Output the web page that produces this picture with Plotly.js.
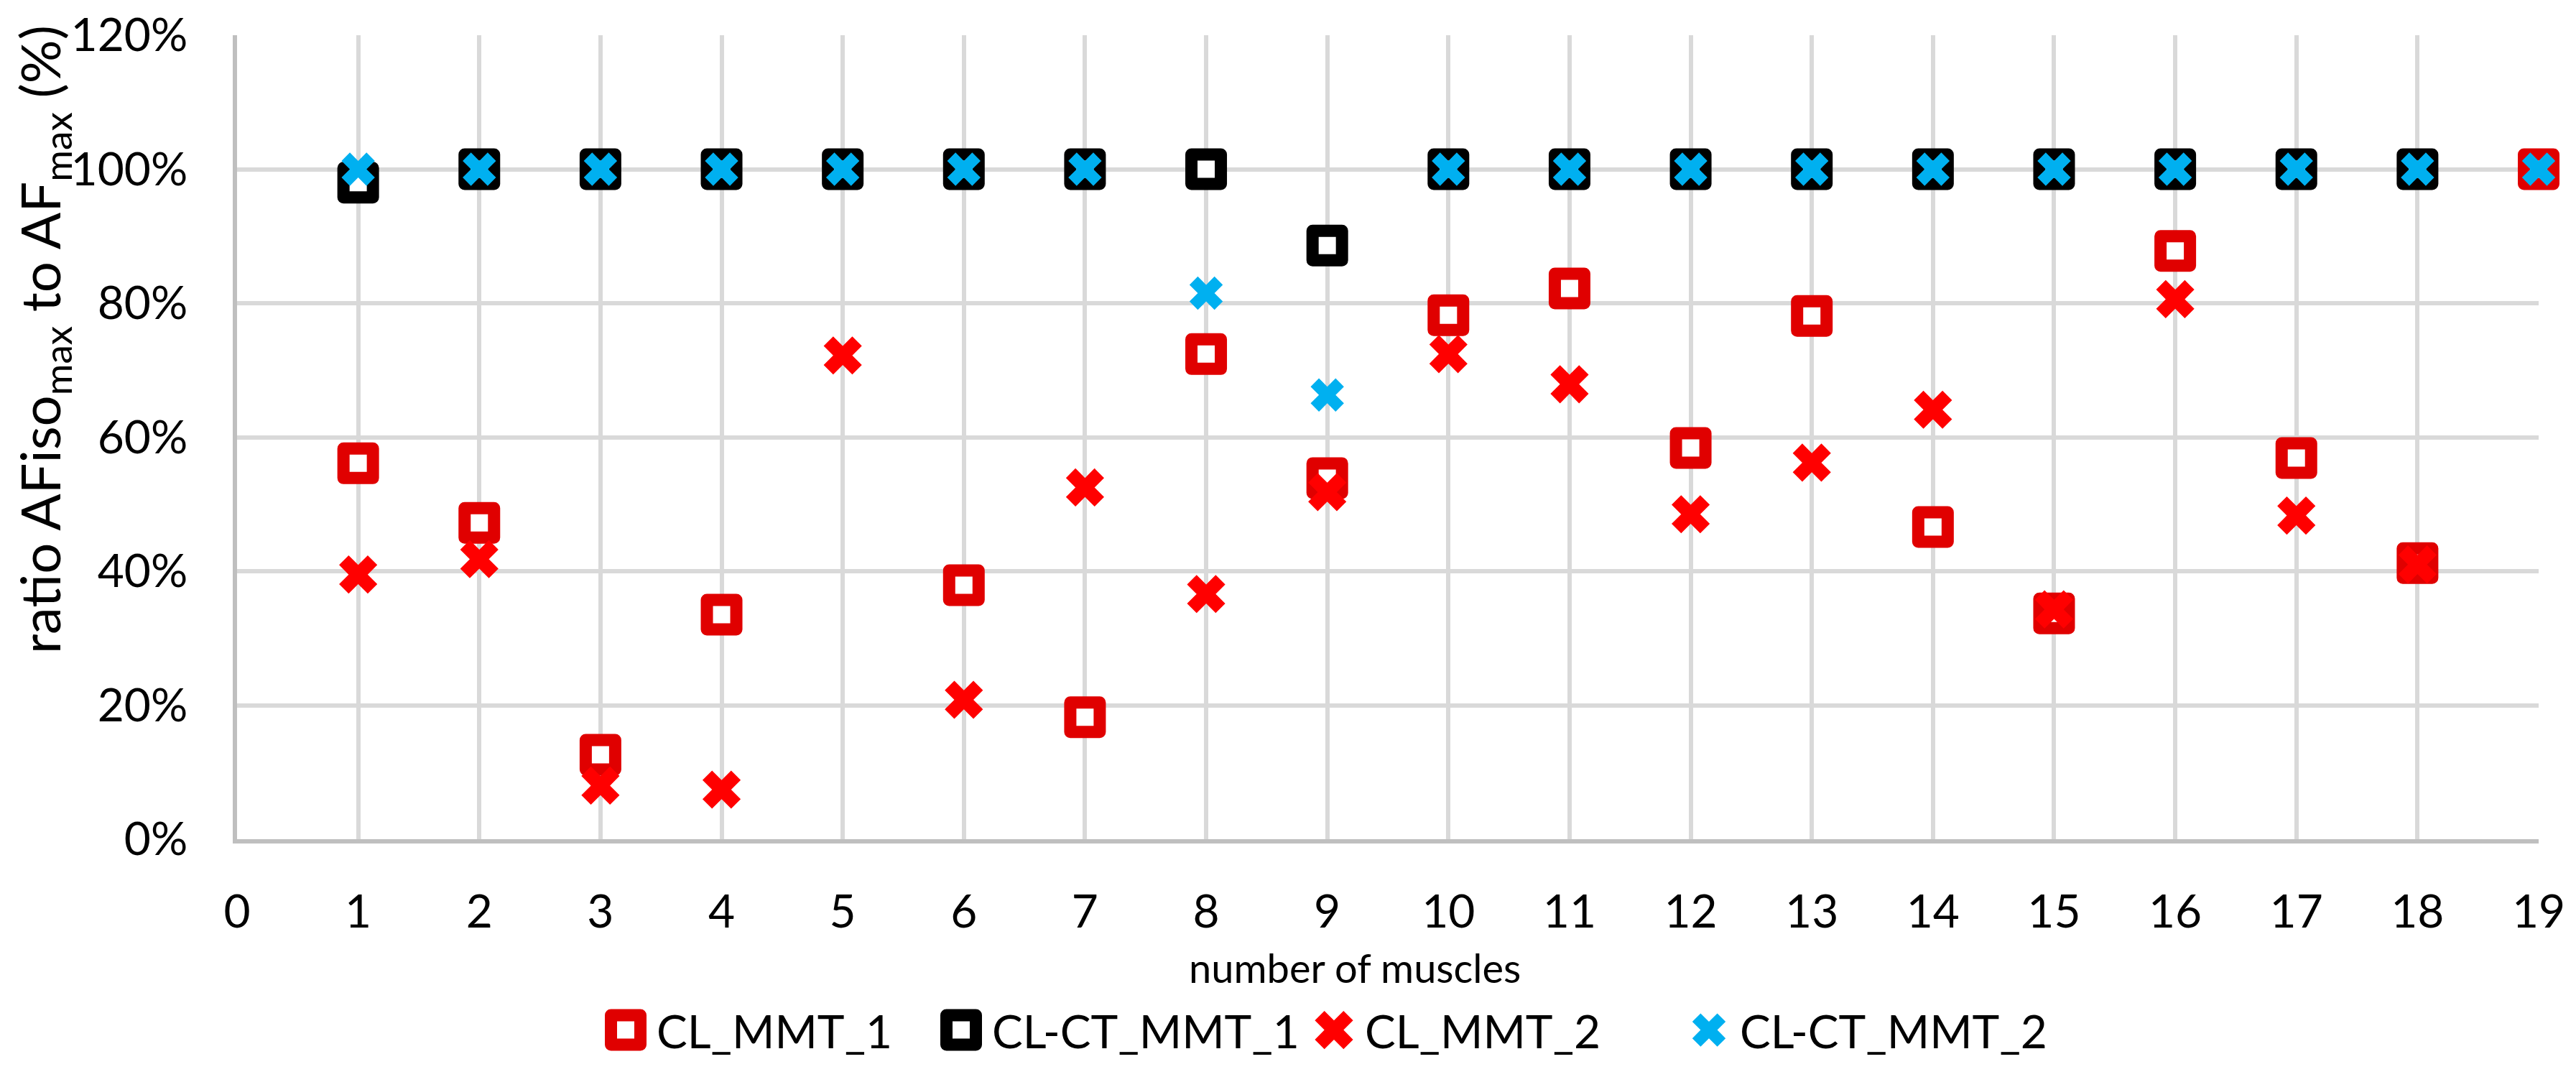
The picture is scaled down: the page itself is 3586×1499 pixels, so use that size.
<!DOCTYPE html>
<html><head><meta charset="utf-8">
<script src="https://cdn.plot.ly/plotly-3.0.1.min.js"></script>
<style>
html,body{margin:0;padding:0;background:#fff;}
#chart{width:3586px;height:1499px;}
.scatterlayer path.point, .legendpoints path{stroke-linejoin:round;}
</style></head><body><div id="chart"></div>
<script>
const muscles = [1,2,3,4,5,6,7,8,9,10,11,12,13,14,15,16,17,18,19];
const clMmt1   = [56.1,47.2,12.6,33.5,null,37.9,18.2,72.4,53.9,78.2,82.2,58.4,78.1,46.6,33.7,87.8,56.9,41.2,100];
const clCtMmt1 = [98.0,100,100,100,100,100,100,100,88.6,100,100,100,100,100,100,100,100,100,null];
const clMmt2   = [39.5,41.8,8.0,7.4,72.2,20.8,52.5,36.6,51.8,72.4,67.9,48.5,56.2,64.1,34.3,80.6,48.3,41.0,null];
const clCtMmt2 = [100,100,100,100,100,100,100,81.5,66.3,100,100,100,100,100,100,100,100,100,100];
const seriesNames = ['CL_MMT_1','CL-CT_MMT_1','CL_MMT_2','CL-CT_MMT_2'];
const yTitle = 'ratio AFiso<sub>max</sub> to AF<sub>max</sub> (%)';
const xTitle = 'number of muscles';

const FONT = 'Lato, sans-serif';
const styles = [
  {symbol:'square', size:41, color:'#ffffff', lineColor:'#E00000', lw:17, key:'s|rgb(224,0,0)'},
  {symbol:'square', size:41, color:'#ffffff', lineColor:'#000000', lw:17, key:'s|rgb(0,0,0)'},
  {symbol:'x', size:47, color:'#FF0000', lineColor:'#FF0000', lw:0, key:'f|rgb(255,0,0)'},
  {symbol:'x', size:41, color:'#00B0F0', lineColor:'#00B0F0', lw:0, key:'f|rgb(0,176,240)'}
];
const legendIds = ['legend','legend2','legend3','legend4'];
const legendMarkerPx = [871, 1338, 1857, 2379];
const ys = [clMmt1, clCtMmt1, clMmt2, clCtMmt2];
const traces = ys.map((y,i)=>({
  type:'scatter', mode:'markers', x:muscles, y:y, name:seriesNames[i], legend:legendIds[i],
  marker:{symbol:styles[i].symbol, size:styles[i].size, color:styles[i].color,
          line:{color:styles[i].lineColor, width:styles[i].lw}},
  cliponaxis:false
}));

const L=330, R=52, T=49, B=331, W=3586, H=1499;
const plotW = W-L-R, plotH = H-T-B;
const layout = {
  width:W, height:H, margin:{l:L,r:R,t:T,b:B}, paper_bgcolor:'#fff', plot_bgcolor:'#fff',
  font:{family:FONT, size:64, color:'#000'},
  showlegend:true,
  xaxis:{range:[0,19], tick0:0, dtick:1, showgrid:true, gridcolor:'#D9D9D9', gridwidth:6,
         showline:true, linecolor:'#BFBFBF', linewidth:6, zeroline:false, ticks:'',
         ticklabelstandoff:40, tickfont:{family:FONT,size:64,color:'#000'}},
  yaxis:{range:[0,120], tick0:0, dtick:20, ticksuffix:'%', showgrid:true, gridcolor:'#D9D9D9', gridwidth:6,
         showline:true, linecolor:'#BFBFBF', linewidth:6, zeroline:false, ticks:'',
         ticklabelstandoff:50, tickfont:{family:FONT,size:64,color:'#000'}},
  annotations:[
    {text:yTitle, xref:'paper', yref:'paper', x:(60-L)/plotW, y:(H-B-473)/plotH,
     xanchor:'center', yanchor:'middle', textangle:-90, showarrow:false,
     font:{family:FONT,size:76,color:'#000'}},
    {text:xTitle, xref:'paper', yref:'paper', x:(1886-L)/plotW, y:(H-B-1346)/plotH,
     xanchor:'center', yanchor:'middle', showarrow:false,
     font:{family:FONT,size:56,color:'#000'}}
  ]
};
legendIds.forEach((id,i)=>{
  layout[id] = {orientation:'h', x:(legendMarkerPx[i]-43-L)/plotW, xanchor:'left',
                y:(H-B-1434)/plotH, yanchor:'middle', itemwidth:76,
                font:{family:FONT, size:64, color:'#000'}, bgcolor:'rgba(0,0,0,0)'};
});

function norm(c){ return (c||'').replace(/\s+/g,'').toLowerCase(); }
function styleFor(p){
  const fill = norm(p.style.fill || p.getAttribute('fill'));
  const stroke = norm(p.style.stroke || p.getAttribute('stroke'));
  for(const st of styles){
    const [kind,col] = st.key.split('|');
    if(kind==='s' && stroke===col && (fill==='rgb(255,255,255)' || fill==='#ffffff')) return st;
    if(kind==='f' && fill===col) return st;
  }
  return null;
}
function enlargeLegendMarkers(){
  document.querySelectorAll('#chart .legendpoints path').forEach(p=>{
    const tr = p.getAttribute('transform')||'';
    if(tr.indexOf('scale')>=0) return;
    const st = styleFor(p); if(!st) return;
    const sc = st.size/16;
    p.setAttribute('transform', tr+' scale('+sc+')');
    p.style.strokeWidth = (st.lw/sc)+'px';
  });
}
const chartEl = document.getElementById('chart');
const obs = new MutationObserver(()=>enlargeLegendMarkers());
obs.observe(chartEl, {childList:true, subtree:true, attributes:true, attributeFilter:['transform','d','style']});
Plotly.newPlot('chart', traces, layout, {staticPlot:true}).then(()=>{
  enlargeLegendMarkers();
  requestAnimationFrame(enlargeLegendMarkers);
});
</script></body></html>
